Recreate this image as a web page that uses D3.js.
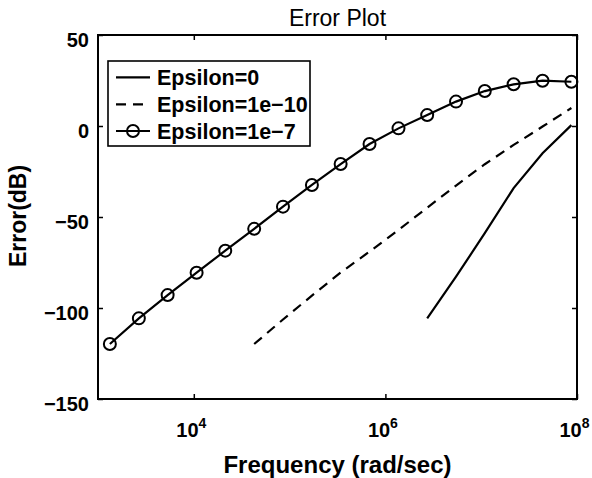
<!DOCTYPE html>
<html>
<head>
<meta charset="utf-8">
<script src="https://cdn.jsdelivr.net/npm/d3@7"></script>
<style>
  body { margin: 0; background: #fff; }
  text { font-family: "Liberation Sans", Arial, Helvetica, sans-serif; fill: #000; }
</style>
</head>
<body>
<svg id="chart" width="592" height="478"></svg>
<script>
// Frequency samples (rad/sec)
const freq = [1.33e3, 2.67e3, 5.33e3, 1.07e4, 2.13e4, 4.27e4, 8.53e4, 1.71e5, 3.41e5,
              6.83e5, 1.37e6, 2.73e6, 5.46e6, 1.09e7, 2.18e7, 4.37e7, 8.74e7];

// Error (dB) for each epsilon; null where the curve is not defined
const errEps0 = [null, null, null, null, null, null, null, null, null, null, null,
                 -105.7, -82.8, -58.9, -34.1, -15.0, 0.5];
const errEps1e10 = [null, null, null, null, null,
                    -119.8, -106.3, -93.2, -80.5, -69.0, -57.1, -44.9, -32.7, -21.0, -10.4, -0.3, 9.9];
const errEps1e7 = [-119.8, -105.7, -92.9, -80.6, -68.5, -56.5, -44.3, -32.4, -20.9,
                   -9.9, -1.3, 6.0, 13.4, 19.2, 22.9, 24.9, 24.3];

const seriesNames = ["Epsilon=0", "Epsilon=1e\u221210", "Epsilon=1e\u22127"];
const xTickValues = [1e4, 1e6, 1e8];
const xTickExponents = ["4", "6", "8"];
const yTickValues = [50, 0, -50, -100, -150];

const svg = d3.select("#chart");
const plotL = 98, plotR = 577, plotT = 35, plotB = 399;

const x = d3.scaleLog().domain([1e3, 1e8]).range([plotL, plotR]);
const y = d3.scaleLinear().domain([-150, 50]).range([plotB, plotT]);

// Axes with inward ticks on all four sides
const gx = svg.append("g").attr("transform", `translate(0,${plotB})`)
  .call(d3.axisBottom(x).tickValues(xTickValues).tickSizeInner(-5).tickSizeOuter(0).tickFormat(() => ""));
gx.select(".domain").remove();
gx.selectAll(".tick line").attr("stroke", "#000").attr("stroke-width", 1.5);
gx.selectAll(".tick text").remove();
gx.selectAll(".tick").append("text")
  .attr("x", -3).attr("y", 38)
  .attr("text-anchor", "middle")
  .style("font-size", "20px").style("font-weight", "bold")
  .each(function (d, i) {
    const t = d3.select(this);
    t.append("tspan").text("10");
    t.append("tspan").attr("dy", -9).style("font-size", "14px").text(xTickExponents[i]);
  });

const gxt = svg.append("g").attr("transform", `translate(0,${plotT})`)
  .call(d3.axisTop(x).tickValues(xTickValues).tickSizeInner(-5).tickSizeOuter(0).tickFormat(() => ""));
gxt.select(".domain").remove();
gxt.selectAll(".tick line").attr("stroke", "#000").attr("stroke-width", 1.5);

const gy = svg.append("g").attr("transform", `translate(${plotL},0)`)
  .call(d3.axisLeft(y).tickValues(yTickValues).tickSizeInner(-5).tickSizeOuter(0)
    .tickFormat(d => d < 0 ? "\u2212" + Math.abs(d) : String(d)));
gy.select(".domain").remove();
gy.selectAll(".tick line").attr("stroke", "#000").attr("stroke-width", 1.5);
gy.selectAll(".tick text")
  .attr("x", -9).attr("dy", "0.55em")
  .style("font-size", "20px").style("font-weight", "bold")
  .style("font-family", "'Liberation Sans', Arial, sans-serif").attr("fill", "#000");

const gyr = svg.append("g").attr("transform", `translate(${plotR},0)`)
  .call(d3.axisRight(y).tickValues(yTickValues).tickSizeInner(-5).tickSizeOuter(0).tickFormat(() => ""));
gyr.select(".domain").remove();
gyr.selectAll(".tick line").attr("stroke", "#000").attr("stroke-width", 1.5);

// Plot box
svg.append("rect")
  .attr("x", plotL).attr("y", plotT)
  .attr("width", plotR - plotL).attr("height", plotB - plotT)
  .attr("fill", "none").attr("stroke", "#000").attr("stroke-width", 2);

// Curves
const line = d3.line()
  .defined(d => d[1] !== null)
  .x(d => x(d[0])).y(d => y(d[1]));

const pts = arr => freq.map((f, i) => [f, arr[i]]);

svg.append("path").datum(pts(errEps0))
  .attr("d", line).attr("fill", "none").attr("stroke", "#000").attr("stroke-width", 2.2);

svg.append("path").datum(pts(errEps1e10))
  .attr("d", line).attr("fill", "none").attr("stroke", "#000").attr("stroke-width", 2.2)
  .attr("stroke-dasharray", "10,7");

svg.append("path").datum(pts(errEps1e7))
  .attr("d", line).attr("fill", "none").attr("stroke", "#000").attr("stroke-width", 2.2);

svg.append("g").selectAll("circle")
  .data(pts(errEps1e7))
  .join("circle")
  .attr("cx", d => x(d[0])).attr("cy", d => y(d[1])).attr("r", 6)
  .attr("fill", "none").attr("stroke", "#000").attr("stroke-width", 2);

// Legend
const lg = svg.append("g");
lg.append("rect").attr("x", 108).attr("y", 61).attr("width", 202).attr("height", 85)
  .attr("fill", "#fff").attr("stroke", "#000").attr("stroke-width", 1.6);
const rowY = [77.3, 104.3, 131];
const dashes = [null, "10,7", null];
seriesNames.forEach((name, i) => {
  lg.append("line").attr("x1", 116).attr("x2", 150).attr("y1", rowY[i]).attr("y2", rowY[i])
    .attr("stroke", "#000").attr("stroke-width", 2.2)
    .attr("stroke-dasharray", dashes[i]);
  if (i === 2) {
    lg.append("circle").attr("cx", 133).attr("cy", rowY[i]).attr("r", 6)
      .attr("fill", "none").attr("stroke", "#000").attr("stroke-width", 2);
  }
  lg.append("text").attr("x", 157).attr("y", rowY[i] + 8)
    .style("font-size", "21.5px").style("font-weight", "bold").text(name);
});

// Titles
svg.append("text").attr("x", (plotL + plotR) / 2).attr("y", 26)
  .attr("text-anchor", "middle").style("font-size", "23px").text("Error Plot");

svg.append("text").attr("x", (plotL + plotR) / 2).attr("y", 473)
  .attr("text-anchor", "middle").style("font-size", "24px").style("font-weight", "bold")
  .text("Frequency (rad/sec)");

svg.append("text").attr("transform", `translate(26,216) rotate(-90)`)
  .attr("text-anchor", "middle").style("font-size", "23px").style("font-weight", "bold")
  .text("Error(dB)");
</script>
</body>
</html>
